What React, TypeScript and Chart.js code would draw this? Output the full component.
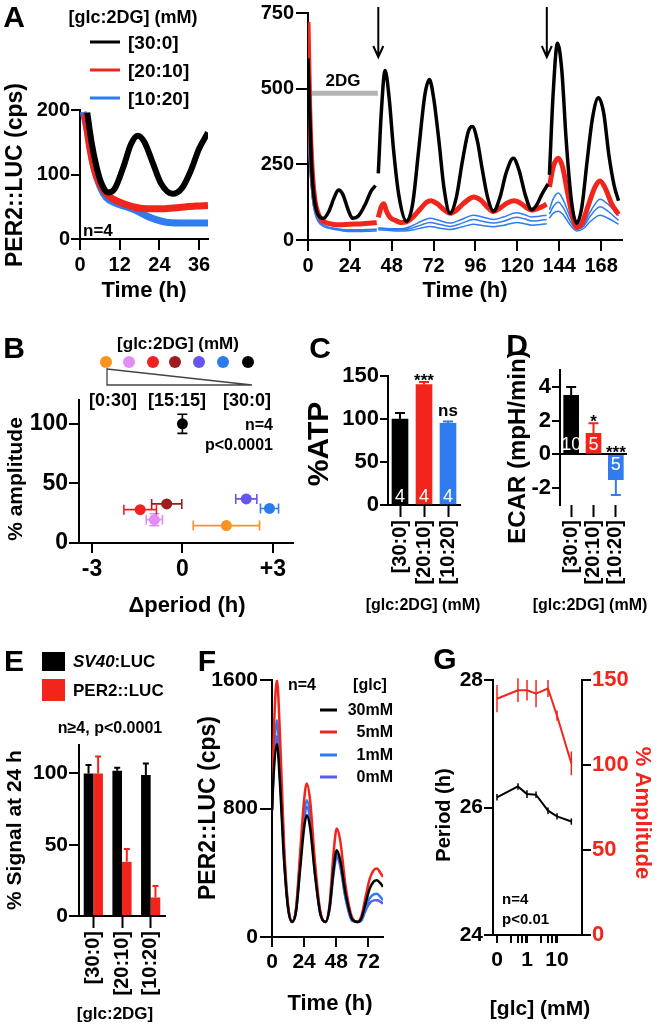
import React, { useEffect, useRef } from "react";
import { Chart, registerables } from "chart.js";
Chart.register(...registerables);

const FONT = "'Liberation Sans', Arial, Helvetica, sans-serif";
const BLACK = "#000000";
const RED = "#f2251c";
const BLUE = "#2f7bef";
const SLATE = "#5b5cf0";

// ---------------- Panel A (left) ----------------
const aLegendLabels = ["[30:0]", "[20:10]", "[10:20]"];
const aLeftXTicks = [0, 12, 24, 36];
const aLeftYTicks = [0, 100, 200];
const tBlackAL = [2.2, 3.5, 5, 6.5, 8.5, 10.5, 13, 15.5, 17.5, 19.5, 22, 24.5, 28, 31, 33.5, 36, 38.7];
const blackAL = [196, 150, 112, 86, 72, 78, 110, 148, 160, 150, 118, 86, 70, 80, 106, 140, 165];
const tRedAL = [1.5, 3, 4.5, 6, 8, 10, 13, 16, 20, 25, 30, 35, 38.7];
const redAL = [195, 140, 105, 85, 70, 62, 55, 50, 47, 47, 49, 51, 52];
const tBlueAL = [1, 2.5, 4, 6, 8, 11, 14, 17, 20, 23, 26, 30, 35, 38.7];
const blueAL = [197, 160, 115, 82, 64, 55, 50, 44, 36, 30, 26, 25, 25, 25];

// ---------------- Panel A (right) ----------------
const aRightXTicks = [0, 24, 48, 72, 96, 120, 144, 168];
const aRightYTicks = [0, 250, 500, 750];
const arrowTimes = [40.3, 136.9];
const dgSpan = [0, 40];
const dgLevel = 485;
const tBlackAR = [0, 1, 2, 3.5, 5, 7, 9, 12, 15, 17.5, 20, 23, 25.5, 29, 33, 36, 38.7, 39.5, 40.3, 42, 44.2, 46.5, 49, 52, 56.5, 60, 63.5, 67, 69.6, 72, 75, 78, 81.4, 85, 88.5, 92, 94.2, 97, 100, 103, 106.3, 110, 113.5, 117.7, 121, 124.5, 128.2, 131, 134, 137.6, 138, 138.4, 140.5, 143, 145.5, 148, 151, 154, 157, 160, 163, 166.5, 169.5, 172.5, 175.5, 178];
const blackAR = [600, 420, 250, 140, 95, 75, 72, 95, 140, 165, 150, 100, 72, 80, 120, 160, 180, null, 220, 420, 560, 470, 300, 150, 62, 120, 300, 480, 530, 470, 330, 170, 88, 140, 260, 360, 375, 330, 230, 140, 95, 140, 220, 270, 230, 150, 100, 115, 150, 185, null, 215, 480, 650, 560, 330, 130, 55, 110, 260, 400, 470, 420, 280, 180, 130];
const tRedAR = [0, 1, 2.5, 4, 6, 8, 10, 14, 18, 24, 30, 35, 39.4, 39.8, 40.3, 42, 43.5, 45, 47, 50, 53, 56.5, 60, 64, 68, 70.5, 74, 78, 81.4, 85, 89, 93, 95, 99, 103, 106.3, 110, 114, 118, 121, 125, 128.2, 132, 136.8, 137.6, 138.4, 140.5, 143.5, 146, 149, 152, 154, 157, 161, 164.5, 167.4, 170.5, 174, 178];
const redAR = [720, 430, 220, 130, 85, 65, 58, 52, 50, 52, 53, 55, 58, null, 75, 110, 120, 95, 75, 65, 58, 60, 75, 100, 125, 130, 120, 100, 88, 98, 120, 138, 142, 132, 108, 94, 105, 122, 130, 125, 108, 99, 105, 118, null, 175, 240, 270, 240, 150, 70, 42, 55, 120, 175, 195, 170, 120, 85];
const tBlueAR = [0, 1, 2.5, 4, 6, 8, 11, 15, 20, 25, 30, 35, 39.4, 39.8, 40.3, 45, 50, 55, 60, 65, 70, 75, 81.4, 88, 94.8, 100, 106.3, 112, 119.6, 124, 128.2, 132, 136.8, 137.6, 138.4, 140.5, 143.5, 146.5, 150, 154, 158, 162, 167.4, 172, 178];
const blueARMid = [400, 250, 140, 90, 62, 50, 42, 37, 33, 32, 32, 33, 34, null, 38, 36, 34, 34, 40, 50, 58, 52, 45, 55, 68, 62, 56, 62, 75, 70, 63, 64, 68, null, 85, 110, 125, 105, 65, 35, 45, 80, 110, 95, 65];
const blueARHi = [400, 250, 140, 92, 64, 52, 44, 39, 35, 34, 34, 35, 36, null, 40, 38, 37, 38, 48, 62, 72, 65, 56, 68, 82, 76, 68, 76, 90, 84, 76, 78, 82, null, 100, 135, 155, 130, 80, 40, 52, 95, 135, 118, 80];
const blueARLo = [400, 250, 140, 88, 60, 48, 40, 35, 30, 28, 28, 29, 30, null, 34, 32, 30, 30, 33, 40, 45, 40, 35, 43, 52, 48, 44, 48, 58, 54, 49, 50, 54, null, 72, 88, 95, 82, 52, 30, 38, 62, 82, 72, 52];

// ---------------- Panel B ----------------
const bLegendLabels = ["[0:30]", "[15:15]", "[30:0]"];
const bColors = ["#f7931e", "#e08ef5", "#ee2222", "#9e1b20", "#6655ee", "#2b7bf0", "#000000"];
const bPeriod = [1.46, -0.93, -1.4, -0.52, 2.12, 2.89, 0];
const bPeriodErr = [1.1, 0.27, 0.54, 0.5, 0.35, 0.3, 0];
const bAmp = [14.6, 19.6, 28, 32.8, 37, 29, 100];
const bAmpErr = [0, 5, 0, 0, 0, 0, 8];
const bXTicks = [-3, 0, 3];
const bXTickLabels = ["-3", "0", "+3"];
const bYTicks = [0, 50, 100];

// ---------------- Panels C, D ----------------
const glcCats = ["[30:0]", "[20:10]", "[10:20]"];
const condColors = [BLACK, RED, BLUE];
const atp = [100, 140, 95];
const atpErr = [7, 3, 2];
const atpN = ["4", "4", "4"];
const atpSig = ["", "***", "ns"];
const cYTicks = [0, 50, 100, 150];
const ecar = [3.5, 1.25, -1.5];
const ecarErr = [0.5, 0.6, 0.9];
const ecarN = ["10", "5", "5"];
const ecarSig = ["", "*", "***"];
const dYTicks = [-2, 0, 2, 4];

// ---------------- Panel E ----------------
const sv40 = [100, 102, 99];
const sv40Err = [6, 2, 8];
const per2 = [100, 38, 13];
const per2Err = [12, 9, 8];
const eYTicks = [0, 50, 100];

// ---------------- Panel F ----------------
const fLegend = ["30mM", "5mM", "1mM", "0mM"];
const fColors = [BLACK, RED, BLUE, SLATE];
const fXTicks = [0, 24, 48, 72];
const fYTicks = [0, 800, 1600];
const fT = [0, 1.5, 3.7, 6, 9, 12, 15, 18, 21, 24, 26, 28.5, 32, 36, 40, 43, 46, 48.4, 51, 55, 60, 64, 67, 70, 73, 76, 78.5, 81, 83];
const f30 = [790, 1050, 1200, 950, 480, 180, 94, 160, 420, 680, 758, 680, 400, 150, 94, 180, 420, 540, 480, 270, 110, 94, 120, 210, 300, 345, 353, 335, 312];
const f5 = [790, 1300, 1600, 1250, 580, 200, 94, 180, 520, 850, 956, 850, 480, 165, 94, 200, 520, 675, 600, 320, 120, 94, 135, 250, 360, 415, 426, 400, 374];
const f1 = [790, 1150, 1350, 1050, 520, 190, 94, 170, 470, 760, 852, 760, 430, 155, 94, 175, 410, 520, 460, 250, 105, 94, 110, 180, 240, 265, 270, 250, 229];
const f0 = [790, 1100, 1250, 1000, 500, 185, 94, 165, 450, 730, 810, 730, 410, 150, 94, 170, 390, 500, 440, 240, 100, 94, 105, 165, 210, 228, 229, 220, 208];

// ---------------- Panel G ----------------
const gGlc = [0.1, 0.5, 1, 2, 5, 10, 30]; // "0" mM plotted at 0.1
const gPeriod = [26.16, 26.33, 26.21, 26.2, 25.95, 25.86, 25.78];
const gPeriodErr = [0.05, 0.05, 0.06, 0.05, 0.05, 0.05, 0.05];
const gAmp = [139, 144, 144, 142, 145, 129, 101];
const gAmpErr = [8, 7, 6, 8, 5, 3, 7];
const gXTicks = [0.1, 0.3, 0.5, 0.7, 0.9, 1, 3, 5, 7, 9, 10];
const gXLabels: Record<string, string> = { "0.1": "0", "1": "1", "10": "10" };
const gYTicks = [24, 26, 28];
const gY2Ticks = [0, 50, 100, 150];

// ================= helpers =================
const tickFont = (size: number) => ({ family: FONT, size, weight: "bold" as const });

function axis(o: any) {
  const horiz = o.pos === "bottom";
  return {
    type: o.type || "linear",
    position: o.pos,
    min: o.min,
    max: o.max,
    afterBuildTicks: (s: any) => {
      s.ticks = o.ticks.map((v: number) => ({ value: v }));
    },
    afterFit: (s: any) => {
      if (horiz) s.height = o.size;
      else s.width = o.size;
      s.paddingLeft = 0;
      s.paddingRight = 0;
      s.paddingTop = 0;
      s.paddingBottom = 0;
    },
    border: { display: o.border !== false, color: BLACK, width: 2 },
    grid: {
      drawOnChartArea: !!o.zeroLine,
      color: o.zeroLine ? (c: any) => (c.tick && c.tick.value === 0 ? BLACK : "rgba(0,0,0,0)") : BLACK,
      lineWidth: 2,
      drawTicks: true,
      tickLength: o.tickLen,
      tickWidth: 2,
      tickColor: BLACK,
    },
    ticks: {
      color: o.color || BLACK,
      font: tickFont(o.font),
      padding: o.pad ?? 2,
      minRotation: 0,
      maxRotation: 0,
      autoSkip: false,
      callback: (v: any) => (o.labels ? o.labels(v) : String(v)),
    },
  };
}

function catAxis(size: number, border: boolean) {
  return {
    type: "category",
    position: "bottom",
    offset: true,
    afterFit: (s: any) => {
      s.height = size;
      s.paddingLeft = 0;
      s.paddingRight = 0;
      s.paddingTop = 0;
      s.paddingBottom = 0;
    },
    border: { display: border, color: BLACK, width: 2 },
    grid: { offset: false, drawOnChartArea: false, drawTicks: true, tickLength: 12, tickWidth: 2, tickColor: BLACK, color: BLACK },
    ticks: { color: BLACK, font: tickFont(20), padding: 3, minRotation: 90, maxRotation: 90, autoSkip: false },
  };
}

const base = (padding: any) => ({
  responsive: false,
  maintainAspectRatio: false,
  animation: false,
  events: [],
  layout: { padding },
  plugins: { legend: { display: false }, tooltip: { enabled: false } },
});

const line = (ts: number[], vs: (number | null)[], color: string, w: number, extra: any = {}) => ({
  type: "line",
  data: ts.map((t, i) => ({ x: t, y: vs[i] })),
  borderColor: color,
  backgroundColor: color,
  borderWidth: w,
  pointRadius: 0,
  fill: false,
  tension: 0.4,
  cubicInterpolationMode: "monotone",
  spanGaps: false,
  borderJoinStyle: "round",
  ...extra,
});

type ErrItem = {
  ds: number;
  y?: number[];
  yErr?: number[];
  x?: number[];
  xErr?: number[];
  oneSided?: boolean;
  colors: string[];
  cap: number;
  lw: number;
};

function errPlugin(items: ErrItem[], behind = false) {
  const draw = (chart: any) => {
    const ctx = chart.ctx;
    items.forEach((it) => {
      const meta = chart.getDatasetMeta(it.ds);
      const xs = chart.scales[meta.xAxisID];
      const ys = chart.scales[meta.yAxisID];
      meta.data.forEach((el: any, i: number) => {
        ctx.save();
        ctx.strokeStyle = it.colors[i % it.colors.length];
        ctx.lineWidth = it.lw;
        const px = el.x;
        const py = el.y;
        if (it.y && it.yErr && it.yErr[i] > 0) {
          const v = it.y[i];
          const e = it.yErr[i];
          let a: number, b: number;
          if (it.oneSided) {
            const s = v >= 0 ? 1 : -1;
            a = ys.getPixelForValue(v);
            b = ys.getPixelForValue(v + s * e);
          } else {
            a = ys.getPixelForValue(v - e);
            b = ys.getPixelForValue(v + e);
          }
          ctx.beginPath();
          ctx.moveTo(px, a);
          ctx.lineTo(px, b);
          if (it.cap > 0) {
            ctx.moveTo(px - it.cap, b);
            ctx.lineTo(px + it.cap, b);
            if (!it.oneSided) {
              ctx.moveTo(px - it.cap, a);
              ctx.lineTo(px + it.cap, a);
            }
          }
          ctx.stroke();
        }
        if (it.x && it.xErr && it.xErr[i] > 0) {
          const v = it.x[i];
          const e = it.xErr[i];
          const a = xs.getPixelForValue(v - e);
          const b = xs.getPixelForValue(v + e);
          ctx.beginPath();
          ctx.moveTo(a, py);
          ctx.lineTo(b, py);
          if (it.cap > 0) {
            ctx.moveTo(a, py - it.cap);
            ctx.lineTo(a, py + it.cap);
            ctx.moveTo(b, py - it.cap);
            ctx.lineTo(b, py + it.cap);
          }
          ctx.stroke();
        }
        ctx.restore();
      });
    });
  };
  return behind ? { id: "errBehind", beforeDatasetsDraw: draw } : { id: "errFront", afterDatasetsDraw: draw };
}

function barTextPlugin(o: {
  vals: number[];
  errs: number[];
  inside: string[];
  sig: string[];
  insideSize: number;
  sigSize: number;
  posOff: number;
  negOff: number;
}) {
  return {
    id: "barText",
    afterDatasetsDraw(chart: any) {
      const ctx = chart.ctx;
      const meta = chart.getDatasetMeta(0);
      const ys = chart.scales.y;
      const b0 = ys.getPixelForValue(0);
      meta.data.forEach((el: any, i: number) => {
        const v = o.vals[i];
        ctx.save();
        ctx.textAlign = "center";
        ctx.textBaseline = "middle";
        ctx.fillStyle = "#ffffff";
        ctx.font = `${o.insideSize}px ${FONT}`;
        ctx.fillText(o.inside[i], el.x, v >= 0 ? b0 - o.posOff : b0 + o.negOff);
        if (o.sig[i]) {
          ctx.fillStyle = BLACK;
          ctx.font = `bold ${o.sigSize}px ${FONT}`;
          ctx.textBaseline = "alphabetic";
          const stars = /^\*+$/.test(o.sig[i]);
          const top = v >= 0 ? ys.getPixelForValue(v + o.errs[i]) : b0;
          ctx.fillText(o.sig[i], el.x, stars ? top + 4 : top - 6);
        }
        ctx.restore();
      });
    },
  };
}

const annoPluginA = {
  id: "annoA",
  beforeDatasetsDraw(chart: any) {
    const { ctx, scales } = chart;
    const x = scales.x;
    const y = scales.y;
    ctx.save();
    ctx.strokeStyle = "#b4b4b4";
    ctx.lineWidth = 5;
    ctx.beginPath();
    ctx.moveTo(x.getPixelForValue(dgSpan[0]), y.getPixelForValue(dgLevel));
    ctx.lineTo(x.getPixelForValue(dgSpan[1]), y.getPixelForValue(dgLevel));
    ctx.stroke();
    ctx.restore();
  },
  afterDatasetsDraw(chart: any) {
    const { ctx, scales, chartArea } = chart;
    const x = scales.x;
    ctx.save();
    ctx.strokeStyle = BLACK;
    ctx.lineWidth = 2;
    arrowTimes.forEach((t) => {
      const px = x.getPixelForValue(t);
      const y0 = chartArea.top - 6;
      const y1 = chartArea.top + 44;
      ctx.beginPath();
      ctx.moveTo(px, y0);
      ctx.lineTo(px, y1);
      ctx.moveTo(px - 5, y1 - 11);
      ctx.lineTo(px, y1);
      ctx.lineTo(px + 5, y1 - 11);
      ctx.stroke();
    });
    ctx.restore();
  },
};

// ================= chart configs =================
const configAL = () => ({
  type: "line",
  data: {
    datasets: [line(tBlackAL, blackAL, BLACK, 6), line(tRedAL, redAL, RED, 7), line(tBlueAL, blueAL, BLUE, 7)],
  },
  options: {
    ...base({ top: 14, right: 7, left: 0, bottom: 0 }),
    scales: {
      x: axis({ pos: "bottom", min: 0, max: 38.7, ticks: aLeftXTicks, size: 45, tickLen: 11, font: 20, pad: 3 }),
      y: axis({ pos: "left", min: 0, max: 200, ticks: aLeftYTicks, size: 80, tickLen: 9, font: 20, pad: 1 }),
    },
  },
});

const configAR = () => ({
  type: "line",
  data: {
    datasets: [
      line(tBlackAR, blackAR, BLACK, 3.5),
      line(tRedAR, redAR, RED, 5),
      line(tBlueAR, blueARHi, BLUE, 1.5),
      line(tBlueAR, blueARMid, BLUE, 1.5),
      line(tBlueAR, blueARLo, BLUE, 1.5),
    ],
  },
  options: {
    ...base({ top: 13, right: 8, left: 0, bottom: 0 }),
    scales: {
      x: axis({ pos: "bottom", min: 0, max: 180, ticks: aRightXTicks, size: 45, tickLen: 11, font: 20, pad: 3 }),
      y: axis({ pos: "left", min: 0, max: 750, ticks: aRightYTicks, size: 60, tickLen: 12, font: 20, pad: 2 }),
    },
  },
  plugins: [annoPluginA],
});

const configB = () => ({
  type: "scatter",
  data: {
    datasets: [
      {
        data: bPeriod.map((p, i) => ({ x: p, y: bAmp[i] })),
        pointRadius: 5.5,
        pointBackgroundColor: bColors,
        pointBorderWidth: 0,
        pointBorderColor: bColors,
      },
    ],
  },
  options: {
    ...base({ top: 12, right: 7, left: 0, bottom: 0 }),
    scales: {
      x: axis({
        pos: "bottom",
        min: -3.43,
        max: 3.67,
        ticks: bXTicks,
        size: 45,
        tickLen: 10,
        font: 23,
        pad: 3,
        labels: (v: number) => bXTickLabels[bXTicks.indexOf(v)],
      }),
      y: axis({ pos: "left", min: 0, max: 120, ticks: bYTicks, size: 79, tickLen: 10, font: 23, pad: 1 }),
    },
  },
  plugins: [errPlugin([{ ds: 0, x: bPeriod, xErr: bPeriodErr, y: bAmp, yErr: bAmpErr, colors: bColors, cap: 5, lw: 1.6 }], true)],
});

const configC = () => ({
  type: "bar",
  data: {
    labels: glcCats,
    datasets: [{ data: atp, backgroundColor: condColors, barThickness: 16, borderWidth: 0 }],
  },
  options: {
    ...base({ top: 16, right: 10, left: 0, bottom: 0 }),
    scales: {
      x: catAxis(95, true),
      y: axis({ pos: "left", min: 0, max: 150, ticks: cYTicks, size: 70, tickLen: 8, font: 22, pad: 1 }),
    },
  },
  plugins: [
    errPlugin([{ ds: 0, y: atp, yErr: atpErr, oneSided: true, colors: condColors, cap: 5, lw: 2 }]),
    barTextPlugin({ vals: atp, errs: atpErr, inside: atpN, sig: atpSig, insideSize: 18, sigSize: 17, posOff: 8, negOff: 11 }),
  ],
});

const configD = () => ({
  type: "bar",
  data: {
    labels: glcCats,
    datasets: [{ data: ecar, backgroundColor: condColors, barThickness: 15, borderWidth: 0 }],
  },
  options: {
    ...base({ top: 15, right: 12, left: 0, bottom: 0 }),
    scales: {
      x: catAxis(95, false),
      y: axis({ pos: "left", min: -3, max: 5, ticks: dYTicks, size: 50, tickLen: 8, font: 22, pad: 1, zeroLine: true }),
    },
  },
  plugins: [
    errPlugin([{ ds: 0, y: ecar, yErr: ecarErr, oneSided: true, colors: condColors, cap: 5, lw: 2 }]),
    barTextPlugin({ vals: ecar, errs: ecarErr, inside: ecarN, sig: ecarSig, insideSize: 18, sigSize: 17, posOff: 9, negOff: 11 }),
  ],
});

const configE = () => ({
  type: "bar",
  data: {
    labels: glcCats,
    datasets: [
      { data: sv40, backgroundColor: BLACK, barPercentage: 1, categoryPercentage: 0.67, borderWidth: 0 },
      { data: per2, backgroundColor: RED, barPercentage: 1, categoryPercentage: 0.67, borderWidth: 0 },
    ],
  },
  options: {
    ...base({ top: 10, right: 8, left: 0, bottom: 0 }),
    scales: {
      x: catAxis(90, true),
      y: axis({ pos: "left", min: 0, max: 120, ticks: eYTicks, size: 79, tickLen: 10, font: 21, pad: 1 }),
    },
  },
  plugins: [
    errPlugin([
      { ds: 0, y: sv40, yErr: sv40Err, oneSided: true, colors: [BLACK], cap: 3, lw: 2 },
      { ds: 1, y: per2, yErr: per2Err, oneSided: true, colors: [RED], cap: 3, lw: 2 },
    ]),
  ],
});

const configF = () => ({
  type: "line",
  data: {
    datasets: [
      line(fT, f30, fColors[0], 2.5),
      line(fT, f5, fColors[1], 2.5),
      line(fT, f1, fColors[2], 2.5),
      line(fT, f0, fColors[3], 2.5),
    ],
  },
  options: {
    ...base({ top: 12, right: 6, left: 0, bottom: 0 }),
    scales: {
      x: axis({ pos: "bottom", min: 0, max: 83, ticks: fXTicks, size: 45, tickLen: 10, font: 21, pad: 3 }),
      y: axis({ pos: "left", min: 0, max: 1600, ticks: fYTicks, size: 70, tickLen: 12, font: 21, pad: 2 }),
    },
  },
});

const configG = () => ({
  type: "line",
  data: {
    datasets: [
      line(gGlc, gPeriod, BLACK, 2, { yAxisID: "y", tension: 0, cubicInterpolationMode: "default" }),
      line(gGlc, gAmp, RED, 2, { yAxisID: "y2", tension: 0, cubicInterpolationMode: "default" }),
    ],
  },
  options: {
    ...base({ top: 12, right: 0, left: 0, bottom: 0 }),
    scales: {
      x: axis({
        pos: "bottom",
        type: "logarithmic",
        min: 0.0736,
        max: 68,
        ticks: gXTicks,
        size: 45,
        tickLen: 8,
        font: 21,
        pad: 5,
        labels: (v: number) => gXLabels[String(v)] ?? "",
      }),
      y: axis({ pos: "left", min: 24, max: 28, ticks: gYTicks, size: 55, tickLen: 9, font: 21, pad: 1 }),
      y2: axis({ pos: "right", min: 0, max: 150, ticks: gY2Ticks, size: 55, tickLen: 9, font: 22, pad: 1, color: RED }),
    },
  },
  plugins: [
    errPlugin([
      { ds: 0, y: gPeriod, yErr: gPeriodErr, colors: [BLACK], cap: 0, lw: 1.5 },
      { ds: 1, y: gAmp, yErr: gAmpErr, colors: [RED], cap: 0, lw: 1.5 },
    ]),
  ],
});

// ================= components =================
type BoxProps = { left: number; top: number; width: number; height: number; config: () => any };
function ChartBox({ left, top, width, height, config }: BoxProps) {
  const ref = useRef<HTMLCanvasElement | null>(null);
  useEffect(() => {
    const c = new Chart(ref.current as HTMLCanvasElement, config());
    return () => c.destroy();
  }, []);
  return (
    <canvas
      ref={ref}
      width={width}
      height={height}
      style={{ position: "absolute", left, top, width, height }}
    />
  );
}

type TProps = {
  x: number;
  y: number;
  s: number;
  children: React.ReactNode;
  color?: string;
  rot?: number;
  align?: "center" | "left" | "right";
  weight?: number;
};
function T({ x, y, s, children, color = BLACK, rot = 0, align = "center", weight = 700 }: TProps) {
  const tx = align === "center" ? "-50%" : align === "right" ? "-100%" : "0";
  return (
    <div
      style={{
        position: "absolute",
        left: x,
        top: y,
        transform: `translate(${tx}, -50%) rotate(${rot}deg)`,
        fontFamily: FONT,
        fontSize: s,
        fontWeight: weight,
        color,
        whiteSpace: "nowrap",
        lineHeight: 1,
      }}
    >
      {children}
    </div>
  );
}

const bDotX = [106, 129, 153, 175, 199, 223, 248];
const aLegY = [42, 70, 98];
const aLegColors = [BLACK, RED, BLUE];
const fLegY = [710, 732, 755, 777];

export default function App() {
  return (
    <div
      style={{
        position: "absolute",
        left: 0,
        top: 0,
        width: 660,
        height: 1030,
        background: "#ffffff",
        overflow: "hidden",
      }}
    >
      <ChartBox left={0} top={96} width={215} height={188} config={configAL} />
      <ChartBox left={248} top={0} width={382} height={285} config={configAR} />
      <ChartBox left={0} top={388} width={300} height={200} config={configB} />
      <ChartBox left={318} top={360} width={152} height={240} config={configC} />
      <ChartBox left={510} top={355} width={129} height={245} config={configD} />
      <ChartBox left={0} top={735} width={173} height={271} config={configE} />
      <ChartBox left={202} top={668} width={187} height={314} config={configF} />
      <ChartBox left={438} top={668} width={199} height={312} config={configG} />

      <svg width={660} height={1030} style={{ position: "absolute", left: 0, top: 0, pointerEvents: "none" }}>
        {aLegY.map((y, i) => (
          <line key={"al" + i} x1={90} x2={120} y1={y} y2={y} stroke={aLegColors[i]} strokeWidth={3} />
        ))}
        {fLegY.map((y, i) => (
          <line key={"fl" + i} x1={320} x2={337} y1={y} y2={y} stroke={fColors[i]} strokeWidth={3} />
        ))}
        {bDotX.map((x, i) => (
          <circle key={"bd" + i} cx={x} cy={362} r={6} fill={bColors[i]} />
        ))}
        <polyline points="107,368 107,385 252,385 107,369" fill="none" stroke="#444" strokeWidth={1.3} />
        <rect x={42} y={652} width={23} height={19} fill={BLACK} />
        <rect x={42} y={679} width={23} height={22} fill={RED} />
      </svg>

      {/* panel letters */}
      <T x={14} y={17} s={30}>A</T>
      <T x={14} y={348} s={30}>B</T>
      <T x={320} y={348} s={30}>C</T>
      <T x={517} y={345} s={30}>D</T>
      <T x={14} y={661} s={30}>E</T>
      <T x={207} y={661} s={30}>F</T>
      <T x={445} y={659} s={30}>G</T>

      {/* Panel A */}
      <T x={133} y={17} s={18}>[glc:2DG] (mM)</T>
      {aLegendLabels.map((l, i) => (
        <T key={"alt" + i} x={128} y={aLegY[i]} s={19} align="left">{l}</T>
      ))}
      <T x={83} y={230} s={17} align="left">n=4</T>
      <T x={14} y={175} s={23} rot={-90}>PER2::LUC (cps)</T>
      <T x={144} y={290} s={22}>Time (h)</T>
      <T x={343} y={80} s={17}>2DG</T>
      <T x={465} y={290} s={22}>Time (h)</T>

      {/* Panel B */}
      <T x={178} y={343} s={17}>[glc:2DG] (mM)</T>
      <T x={113} y={400} s={18}>{bLegendLabels[0]}</T>
      <T x={177} y={400} s={18}>{bLegendLabels[1]}</T>
      <T x={247} y={400} s={18}>{bLegendLabels[2]}</T>
      <T x={273} y={425} s={16} align="right">n=4</T>
      <T x={273} y={445} s={16} align="right">p&lt;0.0001</T>
      <T x={14} y={479} s={21} rot={-90}>% amplitude</T>
      <T x={187} y={605} s={22}>Δperiod (h)</T>

      {/* Panel C, D */}
      <T x={318} y={444} s={30} rot={-90}>%ATP</T>
      <T x={423} y={605} s={16}>[glc:2DG] (mM)</T>
      <T x={517} y={447} s={24} rot={-90}>ECAR (mpH/min)</T>
      <T x={590} y={605} s={16}>[glc:2DG] (mM)</T>

      {/* Panel E */}
      <T x={73} y={661} s={17} align="left">
        <span style={{ fontStyle: "italic" }}>SV40</span>:LUC
      </T>
      <T x={73} y={690} s={17} align="left">PER2::LUC</T>
      <T x={110} y={728} s={16}>n≥4, p&lt;0.0001</T>
      <T x={13} y={830} s={21} rot={-90}>% Signal at 24 h</T>
      <T x={115} y={1013} s={17}>[glc:2DG]</T>

      {/* Panel F */}
      <T x={207} y={808} s={23} rot={-90}>PER2::LUC (cps)</T>
      <T x={302} y={685} s={16}>n=4</T>
      <T x={370} y={685} s={16}>[glc]</T>
      {fLegend.map((l, i) => (
        <T key={"flt" + i} x={393} y={fLegY[i]} s={16} align="right">{l}</T>
      ))}
      <T x={330} y={1003} s={22}>Time (h)</T>

      {/* Panel G */}
      <T x={443} y={815} s={20} rot={-90}>Period (h)</T>
      <T x={643} y={813} s={22} rot={90} color={RED}>% Amplitude</T>
      <T x={502} y={898} s={15} align="left">n=4</T>
      <T x={502} y={918} s={15} align="left">p&lt;0.01</T>
      <T x={540} y={1007} s={21}>[glc] (mM)</T>
    </div>
  );
}
